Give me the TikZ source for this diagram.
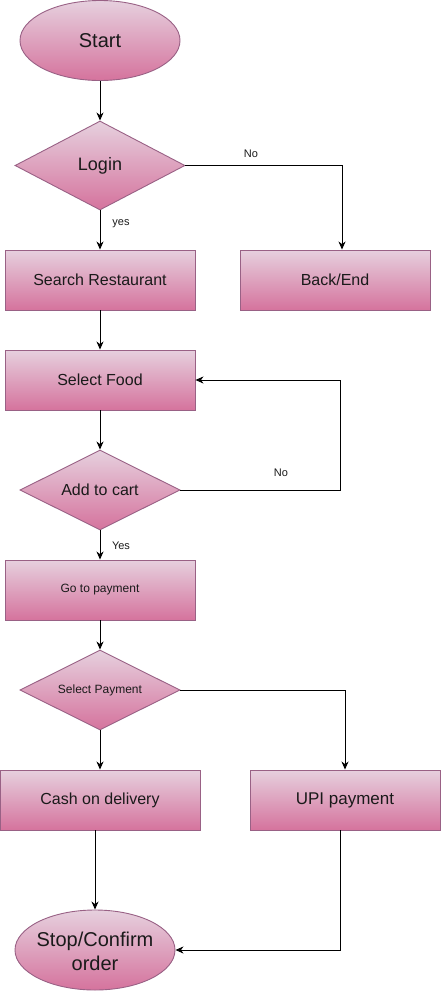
\documentclass[tikz,border=0pt]{standalone}
\usepackage{fontspec}
\setmainfont{Liberation Sans}
\usetikzlibrary{shapes.geometric,arrows.meta,calc}
\definecolor{pinktop}{HTML}{E6D0DE}
\definecolor{pinkbot}{HTML}{D5739D}
\definecolor{pinkline}{HTML}{996185}
\definecolor{txt}{HTML}{1A1A1A}
\tikzset{
  pinkfill/.style={draw=pinkline, line width=0.9pt, shading=axis, top color=pinktop, bottom color=pinkbot, inner sep=0pt, text=txt},
  procbox/.style={pinkfill, rectangle, minimum width=#1, minimum height=60pt},
  decide/.style={pinkfill, diamond, aspect=2},
  term/.style={pinkfill, ellipse, minimum width=160pt, minimum height=80pt},
  conn/.style={draw=black, line width=1pt, -{Stealth[length=8pt,width=7pt,inset=2.5pt]}},
  lbl/.style={font=\fontsize{11}{13}\selectfont, text=txt, inner sep=0pt},
  big/.style={font=\fontsize{#1}{#1}\selectfont}
}
\begin{document}
\begin{tikzpicture}[x=1pt,y=-1pt]
\useasboundingbox (0,0) rectangle (441,991);
\node[term, big=20] (start) at (100,40.5) {Start};
\node[decide, minimum width=170pt, minimum height=89pt, big=18] (login) at (100,165.5) {Login};
\node[procbox=190pt, big=16] (search) at (100,280) {Search Restaurant};
\node[procbox=190pt, big=16] (back) at (335,280) {Back/End};
\node[procbox=190pt, big=16] (food) at (100,380) {Select Food};
\node[decide, minimum width=160pt, minimum height=80pt, big=16] (cart) at (100,490) {Add to cart};
\node[procbox=190pt, big=12] (pay) at (100,590) {Go to payment};
\node[decide, minimum width=160pt, minimum height=80pt, big=12] (selpay) at (100,690) {Select Payment};
\node[procbox=200pt, big=16] (cod) at (100,800) {Cash on delivery};
\node[procbox=190pt, big=17] (upi) at (345,800) {UPI payment};
\node[term, label={[align=center, font=\fontsize{20}{24}\selectfont, text=txt, inner sep=0pt, yshift=-1pt]center:Stop/Confirm\\order}] (stop) at (95,950) {};
\coordinate (loop) at (340,490);

\draw[conn] (start.south) -- (login.north);
\draw[conn] (login.south) -- (search.north);
\draw[conn] (login.east) -| ([xshift=7pt]back.north);
\draw[conn] (search.south) -- (food.north);
\draw[conn] (food.south) -- (cart.north);
\draw[conn] (cart.east) -- (loop) |- (food.east);
\draw[conn] (cart.south) -- (pay.north);
\draw[conn] (pay.south) -- (selpay.north);
\draw[conn] (selpay.south) -- (cod.north);
\draw[conn] (selpay.east) -| (upi.north);
\draw[conn] (cod.south -| stop.north) -- (stop.north);
\draw[conn] ([xshift=-5pt]upi.south) |- (stop.east);

\node[lbl] (l1) at (251,154) {No};
\node[lbl] (l2) at (121,224) {yes};
\node[lbl] (l3) at (281,473) {No};
\node[lbl] (l4) at (121,546) {Yes};
\end{tikzpicture}
\end{document}
